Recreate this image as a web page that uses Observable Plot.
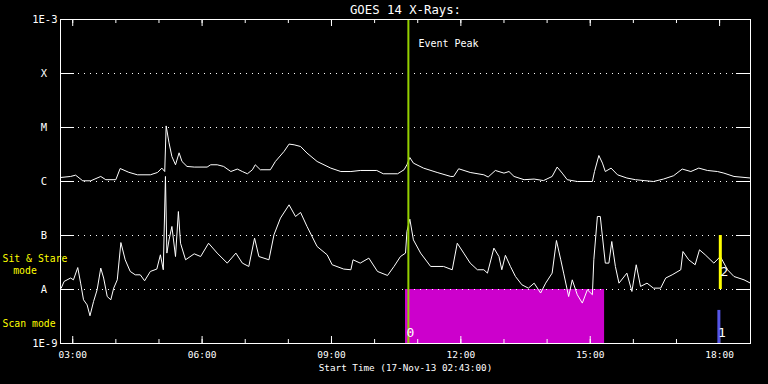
<!DOCTYPE html>
<html><head><meta charset="utf-8">
<script src="https://cdn.jsdelivr.net/npm/d3@7"></script>
<script src="https://cdn.jsdelivr.net/npm/@observablehq/plot@0.6"></script>
<style>
html,body{margin:0;padding:0;background:#000;}
</style></head><body><div id="chart"></div>
<script>
const day = "2013-11-17";
const startTime = "02:43", endTime = "18:43";
const chartTitle = "GOES 14 X-Rays:";
const xAxisTitle = "Start Time (17-Nov-13 02:43:00)";

// Long channel (upper curve)
const longTimes = [
 "02:44","02:57","03:04","03:14","03:25","03:39","03:46","04:00","04:06","04:18",
 "04:30","04:48","04:58","05:04","05:08","05:10","05:14","05:18","05:23","05:28",
 "05:32","05:39","05:49","06:07","06:12","06:21","06:30","06:40","06:49","06:56",
 "07:03","07:10","07:14","07:21","07:35","07:42","07:54","08:01","08:08","08:17",
 "08:26","08:40","08:59","09:13","09:27","09:40","10:03","10:12","10:32","10:41",
 "10:45","10:49","10:54","11:08","11:27","11:46","11:50","11:57","12:13","12:32",
 "12:38","12:48","13:00","13:07","13:14","13:28","13:42","13:55","14:07","14:14",
 "14:21","14:28","14:42","15:03","15:06","15:12","15:17","15:21","15:29","15:38",
 "15:51","16:03","16:15","16:28","16:42","16:56","17:08","17:20","17:31","17:43",
 "17:57","18:06","18:20","18:43"];
const longFlux = [
 1.19e-6,1.24e-6,1.31e-6,1.03e-6,1.03e-6,1.24e-6,1.08e-6,1.08e-6,1.74e-6,1.48e-6,
 1.33e-6,1.33e-6,1.47e-6,1.77e-6,1.53e-6,1.07e-5,5.2e-6,2.9e-6,2.04e-6,3.4e-6,
 2.35e-6,1.9e-6,1.85e-6,1.85e-6,2.04e-6,2.04e-6,1.9e-6,1.53e-6,1.70e-6,1.53e-6,
 1.39e-6,1.65e-6,2.04e-6,1.65e-6,1.65e-6,2.35e-6,3.6e-6,4.93e-6,4.78e-6,4.45e-6,
 3.36e-6,2.35e-6,1.77e-6,1.53e-6,1.53e-6,1.60e-6,1.60e-6,1.39e-6,1.39e-6,1.65e-6,
 2.04e-6,2.78e-6,2.19e-6,1.77e-6,1.47e-6,1.24e-6,1.24e-6,1.72e-6,1.47e-6,1.33e-6,
 1.21e-6,1.60e-6,1.43e-6,1.53e-6,1.24e-6,1.08e-6,1.11e-6,1.04e-6,1.24e-6,1.85e-6,
 1.43e-6,1.08e-6,1.0e-6,1.0e-6,1.53e-6,3.03e-6,2.19e-6,1.53e-6,1.77e-6,1.33e-6,
 1.16e-6,1.08e-6,1.04e-6,1.0e-6,1.11e-6,1.28e-6,1.70e-6,1.53e-6,1.77e-6,1.60e-6,
 1.53e-6,1.43e-6,1.24e-6,1.16e-6];

// Short channel (lower curve)
const shortTimes = [
 "02:44","02:48","02:57","03:01","03:07","03:11","03:15","03:20","03:24","03:29",
 "03:34","03:39","03:43","03:48","03:53","03:57","04:02","04:07","04:13","04:20",
 "04:27","04:34","04:40","04:48","04:57","05:02","05:06","05:09","05:11","05:14",
 "05:18","05:23","05:27","05:30","05:37","05:49","05:58","06:09","06:21","06:35",
 "06:47","06:56","07:05","07:13","07:19","07:33","07:40","07:49","08:01","08:10",
 "08:17","08:26","08:40","08:54","09:01","09:17","09:27","09:30","09:40","09:52",
 "10:04","10:18","10:27","10:36","10:43","10:45","10:49","10:54","11:04","11:18",
 "11:36","11:48","11:55","12:04","12:13","12:23","12:32","12:37","12:46","12:53",
 "12:57","13:02","13:09","13:16","13:25","13:34","13:42","13:51","13:58","14:07",
 "14:13","14:19","14:23","14:30","14:35","14:42","14:49","14:56","15:03","15:05",
 "15:10","15:14","15:21","15:26","15:30","15:35","15:40","15:51","15:58","16:04",
 "16:10","16:19","16:28","16:38","16:45","16:54","17:06","17:09","17:17","17:26",
 "17:32","17:40","17:52","18:01","18:11","18:20","18:34","18:43"];
const shortFlux = [
 1.06e-8,1.41e-8,1.63e-8,1.51e-8,2.55e-8,1.31e-8,6.45e-9,5.2e-9,3.26e-9,6.0e-9,
 9.9e-9,2.49e-8,1.63e-8,7.4e-9,6.45e-9,1.06e-8,1.51e-8,7.4e-8,3.55e-8,2.16e-8,
 1.87e-8,1.87e-8,1.45e-8,2.16e-8,2.39e-8,4.39e-8,2.32e-8,1.24e-6,4.72e-8,8.3e-8,
 1.47e-7,4.08e-8,2.78e-7,7.2e-8,3.55e-8,4.58e-8,4.08e-8,7.2e-8,4.72e-8,3.08e-8,
 4.72e-8,3.08e-8,2.67e-8,8.95e-8,4.08e-8,3.55e-8,1.03e-7,2.1e-7,3.7e-7,2.25e-7,
 2.67e-7,1.47e-7,6.26e-8,4.39e-8,2.87e-8,2.39e-8,2.32e-8,3.55e-8,3.08e-8,3.81e-8,
 2.16e-8,1.82e-8,2.67e-8,4.08e-8,4.72e-8,1.19e-7,2.01e-7,8.3e-8,4.72e-8,2.67e-8,
 2.67e-8,2.32e-8,7.2e-8,4.72e-8,3.08e-8,2.32e-8,2.32e-8,2.01e-8,5.84e-8,4.08e-8,
 2.32e-8,4.3e-8,2.67e-8,1.74e-8,1.22e-8,1.06e-8,1.31e-8,8.6e-9,1.31e-8,2.01e-8,
 8.08e-8,3.55e-8,2.01e-8,7.4e-9,1.51e-8,8.0e-9,5.6e-9,9.9e-9,8.0e-9,3.55e-8,
 2.25e-7,2.25e-7,3.08e-8,3.08e-8,7.74e-8,2.67e-8,1.31e-8,2.01e-8,9.2e-9,2.87e-8,
 1.14e-8,1.31e-8,1.06e-8,1.06e-8,1.63e-8,1.87e-8,2.32e-8,5.05e-8,3.55e-8,2.87e-8,
 5.43e-8,4.39e-8,3.08e-8,4.08e-8,2.32e-8,1.74e-8,1.51e-8,1.31e-8];

// Axis levels and tick labels
const levelValues = [1e-9, 1e-8, 1e-7, 1e-6, 1e-5, 1e-4, 1e-3];
const levelLabels = ["1E-9", "A", "B", "C", "M", "X", "1E-3"];
const gridLevels = [1e-8, 1e-7, 1e-6, 1e-5, 1e-4];
const xTickLabels = ["03:00", "06:00", "09:00", "12:00", "15:00", "18:00"];

// Annotations
const eventPeakTime = "10:47";
const eventPeakLabel = "Event Peak";
const eventPeakLabelFlux = 3.6e-4;
const scanBlock = {start: "10:43", end: "15:20", low: 1e-9, high: 1e-8, label: "0", labelFlux: 1.6e-9};
const sitStareMarker = {time: "18:01", low: 1e-8, high: 1e-7, label: "2", labelFlux: 2.15e-8};
const scanMarker = {time: "17:59", low: 1e-9, high: 4.1e-9, label: "1", labelFlux: 1.55e-9};
const sitStareText = "Sit & Stare", sitStareFlux = 3.7e-8;
const modeText = "mode", modeFlux = 2.2e-8;
const scanModeText = "Scan mode", scanModeFlux = 2.3e-9;

const W = 768, H = 384, ML = 60, MR = 18, MT = 19, MB = 41;
const frameW = W - ML - MR, frameH = H - MT - MB;

const T = s => new Date(`${day}T${s}:00Z`);
const longData = longTimes.map((t, i) => ({time: T(t), flux: longFlux[i]}));
const shortData = shortTimes.map((t, i) => ({time: T(t), flux: shortFlux[i]}));
const majorTicks = xTickLabels.map(T);
const tickLabelOf = new Map(majorTicks.map((d, i) => [+d, xTickLabels[i]]));
const hourTicks = d3.utcHour.range(T(startTime), T(endTime));
const levels = levelValues.map((v, i) => ({v, label: levelLabels[i]}));
const numLevels = levels.filter(d => d.label.startsWith("1E"));
const letterLevels = levels.filter(d => !d.label.startsWith("1E"));

// inward tick marks via insets
const topTicks = (ticks, len) => Plot.tickX(ticks, {x: d => d, insetBottom: frameH - len, stroke: "#fff"});
const bottomTicks = (ticks, len) => Plot.tickX(ticks, {x: d => d, insetTop: frameH - len, stroke: "#fff"});
const leftTicks = (ticks, len) => Plot.tickY(ticks, {y: d => d, insetRight: frameW - len, stroke: "#fff"});
const rightTicks = (ticks, len) => Plot.tickY(ticks, {y: d => d, insetLeft: frameW - len, stroke: "#fff"});

const chart = Plot.plot({
  width: W,
  height: H,
  marginLeft: ML,
  marginRight: MR,
  marginTop: MT,
  marginBottom: MB,
  style: {background: "#000", color: "#fff", fontFamily: "'DejaVu Sans Mono', monospace", fontSize: "10px", overflow: "visible"},
  x: {type: "utc", domain: [T(startTime), T(endTime)]},
  y: {type: "log", domain: [1e-9, 1e-3], axis: null},
  marks: [
    Plot.rect([scanBlock], {x1: d => T(d.start), x2: d => T(d.end), y1: "low", y2: "high", fill: "#cc00cc"}),
    Plot.ruleY(gridLevels, {stroke: "#fff", strokeDasharray: "1,5"}),
    leftTicks(gridLevels, 14),
    rightTicks(gridLevels, 14),
    topTicks(hourTicks, 4),
    topTicks(majorTicks, 7),
    bottomTicks(hourTicks, 4),
    bottomTicks(majorTicks, 7),
    Plot.axisX({anchor: "bottom", ticks: majorTicks, tickSize: 0, tickPadding: 8, tickFormat: d => tickLabelOf.get(+d), label: null, fontSize: 9.5, fill: "#fff"}),
    Plot.line(longData, {x: "time", y: "flux", stroke: "#fff", strokeWidth: 1}),
    Plot.line(shortData, {x: "time", y: "flux", stroke: "#fff", strokeWidth: 1}),
    Plot.ruleX([eventPeakTime], {x: d => T(d), stroke: "#94d000", strokeWidth: 2}),
    Plot.ruleX([sitStareMarker], {x: d => T(d.time), y1: "low", y2: "high", stroke: "#ffff00", strokeWidth: 3}),
    Plot.ruleX([scanMarker], {x: d => T(d.time), y1: "low", y2: "high", stroke: "#5555e6", strokeWidth: 3}),
    Plot.text([eventPeakLabel], {x: () => T(eventPeakTime), y: () => eventPeakLabelFlux, text: d => d, textAnchor: "start", dx: 10, fill: "#fff", fontSize: 10}),
    Plot.text([scanBlock], {x: d => T(d.start), y: "labelFlux", text: "label", dx: 5, fill: "#fff", fontSize: 13}),
    Plot.text([scanMarker], {x: d => T(d.time), y: "labelFlux", text: "label", dx: 3, fill: "#fff", fontSize: 13}),
    Plot.text([sitStareMarker], {x: d => T(d.time), y: "labelFlux", text: "label", dx: 4, fill: "#fff", fontSize: 13}),
    Plot.text(numLevels, {y: "v", text: "label", frameAnchor: "left", textAnchor: "end", dx: -3, fill: "#fff", fontSize: 10.5}),
    Plot.text(letterLevels, {y: "v", text: "label", frameAnchor: "left", textAnchor: "middle", dx: -16.5, fill: "#fff", fontSize: 10.5}),
    Plot.text([sitStareText], {y: () => sitStareFlux, text: d => d, frameAnchor: "left", textAnchor: "start", dx: -58, fill: "#ffff00", fontSize: 9.8}),
    Plot.text([modeText], {y: () => modeFlux, text: d => d, frameAnchor: "left", textAnchor: "start", dx: -47.3, fill: "#ffff00", fontSize: 9.8}),
    Plot.text([scanModeText], {y: () => scanModeFlux, text: d => d, frameAnchor: "left", textAnchor: "start", dx: -58, fill: "#ffff00", fontSize: 9.8}),
    Plot.text([chartTitle], {text: d => d, frameAnchor: "top", lineAnchor: "middle", dy: -9.5, fill: "#fff", fontSize: 12.3}),
    Plot.text([xAxisTitle], {text: d => d, frameAnchor: "bottom", lineAnchor: "middle", dy: 25, fill: "#fff", fontSize: 9.3}),
    Plot.frame({stroke: "#fff"})
  ]
});
document.getElementById("chart").appendChild(chart);
</script>
</body></html>
